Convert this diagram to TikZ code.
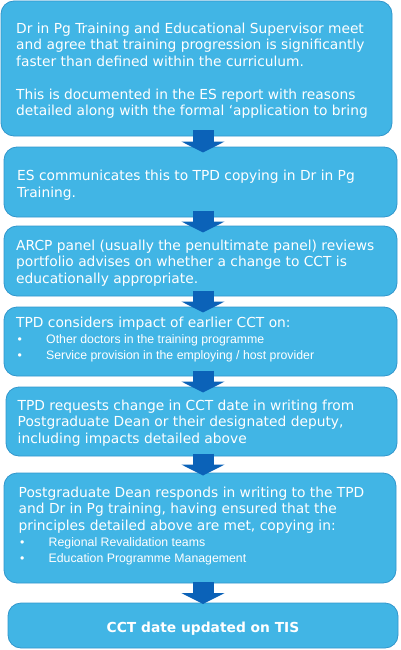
\documentclass[tikz,border=0pt]{standalone}
\usepackage{fontspec}
\setmainfont{DejaVu Sans}
\newfontfamily\bulfont{Liberation Sans}
\usetikzlibrary{arrows.meta,calc}
\definecolor{boxfill}{HTML}{41B5E5}
\definecolor{boxline}{HTML}{3196CC}
\definecolor{arrowfill}{HTML}{0B62B8}
\newcommand{\mainsz}{\fontsize{13.8}{16.5}\selectfont}
\newcommand{\bul}[1]{{\bulfont\fontsize{12.3}{16.5}\selectfont\makebox[30pt][l]{\hspace{1.5pt}\textbullet}#1}}
\newcommand{\topline}{\rule{0pt}{12pt}}
\tikzset{
  flowbox/.style={draw=boxline, line width=0.8pt, fill=boxfill, rounded corners=13pt,
    inner sep=0pt},
  boxtext/.style={text=white, align=left, inner sep=0pt, anchor=north west, font=\mainsz},
  bigarrow/.style={line width=21pt, draw=arrowfill,
    -{Triangle[width=43pt,length=11pt,fill=arrowfill]}}
}
\begin{document}
\begin{tikzpicture}[x=1pt,y=-1pt]
\useasboundingbox (0,0) rectangle (400,650);
% boxes
\node[flowbox, minimum width=391pt, minimum height=135pt] (b1) at (196.5,68.5) {};
\node[flowbox, minimum width=393pt, minimum height=70pt] (b2) at (200.5,182) {};
\node[flowbox, minimum width=393pt, minimum height=70pt] (b3) at (200.5,261) {};
\node[flowbox, minimum width=393pt, minimum height=69pt] (b4) at (200.5,341.5) {};
\node[flowbox, minimum width=391pt, minimum height=69pt] (b5) at (201.5,421.5) {};
\node[flowbox, minimum width=392pt, minimum height=110pt] (b6) at (200,528) {};
\node[flowbox, minimum width=390pt, minimum height=45pt] (b7) at (203,625.5) {};
% texts
\node[boxtext] (t1) at (16,21)
  {\topline Dr in Pg Training and Educational Supervisor meet\\
   and agree that training progression is significantly\\
   faster than defined within the curriculum.\\[16.5pt]
   This is documented in the ES report with reasons\\
   detailed along with the formal `application to bring};
\node[boxtext] (t2) at (17,168.5)
  {\topline ES communicates this to TPD copying in Dr in Pg\\
   Training.};
\node[boxtext] (t3) at (16,238)
  {\topline ARCP panel (usually the penultimate panel) reviews\\
   portfolio advises on whether a change to CCT is\\
   educationally appropriate.};
\node[boxtext] (t4) at (16,315)
  {\topline TPD considers impact of earlier CCT on:\\[-0.5pt]
   \bul{Other doctors in the training programme}\\[-0.5pt]
   \bul{Service provision in the employing / host provider}};
\node[boxtext] (t5) at (17.5,398)
  {\topline TPD requests change in CCT date in writing from\\
   Postgraduate Dean or their designated deputy,\\
   including impacts detailed above};
\node[boxtext] (t6) at (18.5,485)
  {\topline Postgraduate Dean responds in writing to the TPD\\
   and Dr in Pg training, having ensured that the\\
   principles detailed above are met, copying in:\\[-0.5pt]
   \bul{Regional Revalidation teams}\\[-0.5pt]
   \bul{Education Programme Management}};
\node[text=white, inner sep=0pt, anchor=base, font=\mainsz\bfseries] (t7) at (203,632)
  {CCT date updated on TIS};
% arrows
\coordinate (ax) at (203,0);
\foreach \u/\l in {b1/b2, b2/b3, b3/b4, b4/b5, b5/b6, b6/b7}{
  \coordinate (m) at ($(\u.south)!0.5!(\l.north)$);
  \draw[bigarrow] ($(m -| ax)+(0,-11)$) -- ($(m -| ax)+(0,11)$);
}
\end{tikzpicture}
\end{document}
